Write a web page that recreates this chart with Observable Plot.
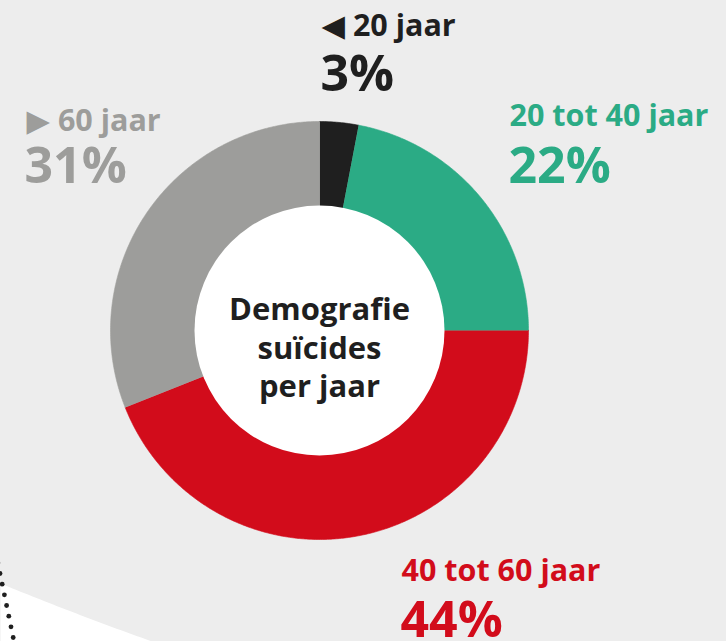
<!DOCTYPE html>
<html>
<head>
<meta charset="utf-8">
<script src="https://cdn.jsdelivr.net/npm/d3@7"></script>
<script src="https://cdn.jsdelivr.net/npm/@observablehq/plot@0.6"></script>
<style>
  html, body { margin: 0; padding: 0; background: #ededed; }
  #chart svg { display: block; }
</style>
</head>
<body>
<div id="chart"></div>
<script>
// ---- data ----
const categories = ["\u25C0 20 jaar", "20 tot 40 jaar", "40 tot 60 jaar", "\u25B6 60 jaar"];
const shares = [3, 22, 44, 31];
const colors = ["#1f1f1f", "#2bab85", "#d20c1b", "#9d9d9b"];
const centerTitle = "Demografie\nsuïcides\nper jaar";

// ---- layout ----
const W = 726, H = 641;
const cx = 319, cy = 330, rOuter = 209, rInner = 125;
const labelPos = [
  {x: 321, y: 35, px: 320, py: 90},
  {x: 509, y: 125, px: 508, py: 182},
  {x: 401, y: 580, px: 400, py: 636},
  {x: 26, y: 130, px: 24, py: 182}
];

// slices from the data
const pie = d3.pie().sort(null).value(d => d)(shares);
function polar(r, a) { return {x: cx + r * Math.sin(a), y: cy - r * Math.cos(a)}; }
const sliceMarks = pie.map((p, i) => {
  const n = Math.max(8, Math.ceil((p.endAngle - p.startAngle) * 120));
  const pts = [];
  for (let k = 0; k <= n; k++) pts.push(polar(rOuter, p.startAngle + (p.endAngle - p.startAngle) * k / n));
  for (let k = n; k >= 0; k--) pts.push(polar(rInner - 2, p.startAngle + (p.endAngle - p.startAngle) * k / n));
  return Plot.line(pts, {x: "x", y: "y", fill: colors[i], stroke: colors[i], strokeWidth: 0.6});
});

// background decoration: white sweep and dotted arc at lower left
const sweep = [];
for (let x = 0; x <= 160; x += 4) sweep.push({x, y: 583 + 0.41 * x - 0.00018 * x * x});
sweep.push({x: 160, y: H}, {x: 0, y: H});
const dots = d3.range(-1, 8).map(i => ({x: -0.5 + 2.2 * i, y: 573 + 10.67 * i}));

const labelRows = categories.map((c, i) => ({label: c, pct: shares[i] + "%", color: colors[i], ...labelPos[i]}));

const font = "'Open Sans', 'DejaVu Sans', sans-serif";
const chart = Plot.plot({
  width: W,
  height: H,
  margin: 0,
  x: {domain: [0, W], range: [0, W], axis: null},
  y: {domain: [0, H], range: [0, H], axis: null},
  style: {background: "#ededed", fontFamily: font},
  marks: [
    Plot.line(sweep, {x: "x", y: "y", fill: "white", stroke: "none"}),
    Plot.dot(dots, {x: "x", y: "y", r: 2.4, fill: "#1f1f1f", stroke: "none"}),
    ...sliceMarks,
    Plot.dot([{x: cx, y: cy}], {x: "x", y: "y", r: rInner, fill: "white", stroke: "none"}),
    Plot.text([centerTitle], {x: () => cx, y: () => cy + 16, text: d => d, textAnchor: "middle", lineAnchor: "middle",
      lineHeight: 1.24, fontSize: 31, fontWeight: 700, fill: "#1f1f1f"}),
    Plot.text(labelRows, {x: "x", y: "y", text: "label", fill: "color", textAnchor: "start", lineAnchor: "bottom",
      fontSize: 30.5, fontWeight: 700}),
    Plot.text(labelRows, {x: "px", y: "py", text: "pct", fill: "color", textAnchor: "start", lineAnchor: "bottom",
      fontSize: 50, fontWeight: 700})
  ]
});
document.getElementById("chart").appendChild(chart);
</script>
</body>
</html>
